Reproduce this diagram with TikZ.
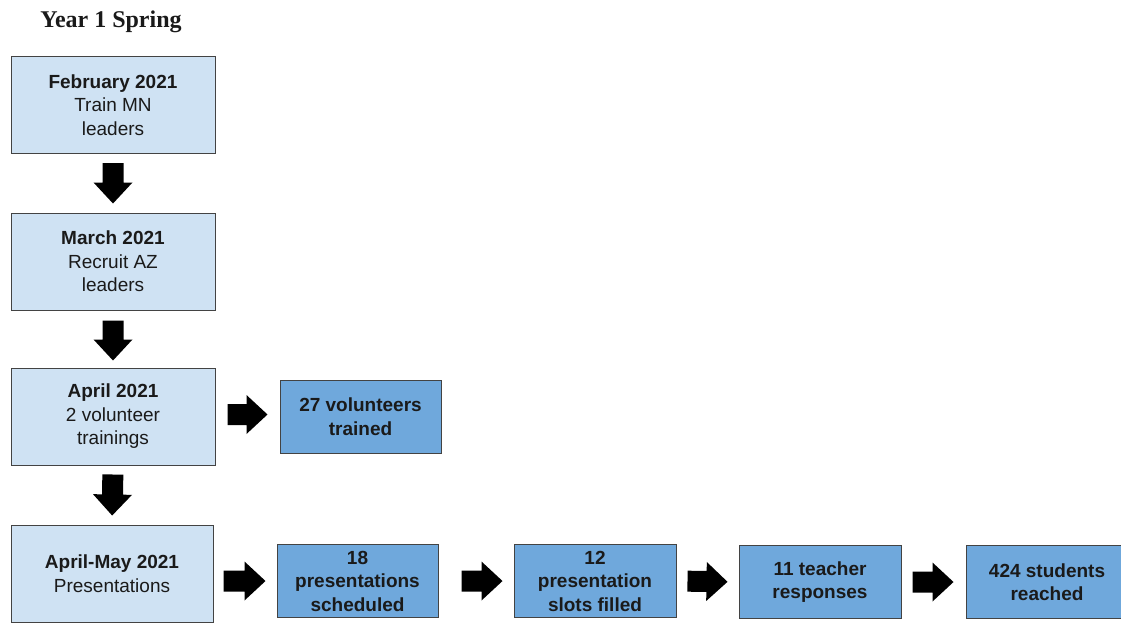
\documentclass[tikz,border=0pt]{standalone}
\usepackage{fontspec}
\setmainfont{Liberation Sans}
\newfontfamily\titlefont{Liberation Serif}
\usetikzlibrary{calc}
\definecolor{lightbox}{HTML}{CFE2F3}
\definecolor{darkbox}{HTML}{6FA8DC}
\definecolor{edgegray}{HTML}{434343}
\definecolor{txt}{HTML}{1A1A1A}
\tikzset{
  phase/.style={draw=edgegray, line width=1pt, fill=lightbox, minimum width=204pt, minimum height=97pt,
    align=center, text=txt, font=\fontsize{19}{23.5}\selectfont, inner sep=0pt},
  result/.style={draw=edgegray, line width=1pt, fill=darkbox, minimum width=162pt, minimum height=73pt,
    align=center, text=txt, font=\fontsize{19}{23.5}\selectfont\bfseries, inner sep=0pt},
  blockarrow/.style 2 args={fill=black, draw=none, to path={
    let \p1=($(\tikztostart)!#1!(\tikztotarget)$),
        \p2=($(\tikztotarget)!#2!(\tikztostart)$),
        \p3=($(\p2)!21pt!(\p1)$) in
    ($(\p1)!10.5pt!90:(\p2)$) -- ($(\p3)!10.5pt!90:(\p2)$) -- ($(\p3)!19.5pt!90:(\p2)$)
    -- (\p2) -- ($(\p3)!19.5pt!-90:(\p2)$) -- ($(\p3)!10.5pt!-90:(\p2)$)
    -- ($(\p1)!10.5pt!-90:(\p2)$) -- cycle}},
}
\begin{document}
\begin{tikzpicture}[x=1pt,y=-1pt]
\useasboundingbox (0,0) rectangle (1121,622);
\clip (0,0) rectangle (1121,622);
\node[font=\titlefont\bfseries\fontsize{24}{28}\selectfont, text=txt] (title) at (111,21.5) {Year 1 Spring};
\node[phase] (feb) at (113,105) {\textbf{February 2021}\\Train MN\\leaders};
\node[phase] (mar) at (113,261.5) {\textbf{March 2021}\\Recruit AZ\\leaders};
\node[phase] (apr) at (113,416.5) {\textbf{April 2021}\\2 volunteer\\trainings};
\node[phase, minimum width=202pt] (aprmay) at (112,573.5) {\textbf{April-May 2021}\\Presentations};
\node[result, minimum width=161pt] (vol) at (360.5,416.5) {27 volunteers\\trained};
\node[result, minimum width=161pt] (sched) at (357.5,581) {18\\presentations\\scheduled};
\node[result] (slots) at (595,581) {12\\presentation\\slots filled};
\node[result] (teach) at (820,582) {11 teacher\\responses};
\node[result] (stud) at (1047,582) {424 students\\reached};
\path[blockarrow={9pt}{9pt}] (feb.south) to (mar.north);
\path[blockarrow={10pt}{7pt}] (mar.south) to (apr.north);
\path[blockarrow={9pt}{9pt}] (apr.south) to (aprmay.north);
\path[blockarrow={12pt}{12pt}] ([yshift=2pt]apr.east) to ([yshift=2pt]vol.west);
\path[blockarrow={10pt}{11pt}] (aprmay.east |- sched.west) to (sched.west);
\path[blockarrow={23pt}{11pt}] (sched.east) to (slots.west);
\path[blockarrow={11pt}{11pt}] (slots.east) to (teach.west);
\path[blockarrow={11pt}{12pt}] (teach.east) to (stud.west);
\end{tikzpicture}
\end{document}
